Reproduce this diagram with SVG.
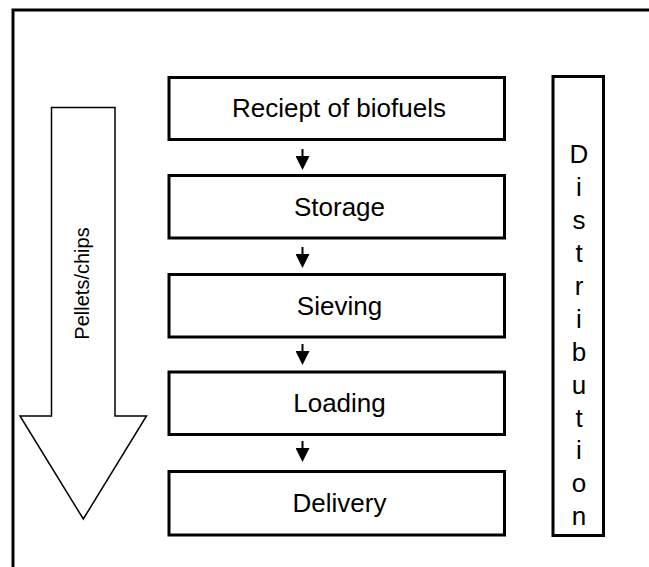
<svg xmlns="http://www.w3.org/2000/svg" width="649" height="567" viewBox="0 0 649 567">
<style>
.box{fill:#fff;stroke:#000;stroke-width:3}
.lbl{font-family:"Liberation Sans",Arial,sans-serif;font-size:26px;fill:#000;text-anchor:middle}
.con{stroke:#000;stroke-width:2;fill:none}
</style>
<defs>
<marker id="ah" markerWidth="14" markerHeight="14" refX="0" refY="7" orient="auto" markerUnits="userSpaceOnUse" viewBox="0 0 14 14">
<path d="M0,0 L14,7 L0,14 z" fill="#000"/>
</marker>
</defs>
<rect width="649" height="567" fill="#fff"/>
<rect id="frame" x="13" y="10" width="700" height="700" fill="none" stroke="#000" stroke-width="3"/>
<g id="pellets-arrow">
<polygon points="51.5,107.5 115,107.5 115,416 146.5,416 83.3,519 20,416 51.5,416" fill="#fff" stroke="#000" stroke-width="1.5"/>
<text transform="translate(89,283.5) rotate(-90)" font-family="Liberation Sans, Arial, sans-serif" font-size="20" text-anchor="middle" fill="#000">Pellets/chips</text>
</g>
<g id="receipt">
<rect class="box" x="169" y="77.5" width="335.5" height="62"/>
<text class="lbl" x="339" y="117">Reciept of biofuels</text>
</g>
<g id="storage">
<rect class="box" x="169" y="175.5" width="335.5" height="62.5"/>
<text class="lbl" x="339.5" y="215.5">Storage</text>
</g>
<g id="sieving">
<rect class="box" x="169" y="274.5" width="335.5" height="62.5"/>
<text class="lbl" x="339.5" y="314.5">Sieving</text>
</g>
<g id="loading">
<rect class="box" x="169" y="372" width="335.5" height="62.5"/>
<text class="lbl" x="339.5" y="412">Loading</text>
</g>
<g id="delivery">
<rect class="box" x="169" y="471.5" width="335.5" height="63.5"/>
<text class="lbl" x="339.5" y="512">Delivery</text>
</g>
<g id="distribution">
<rect class="box" x="553" y="76.5" width="50.5" height="459"/>
<text class="lbl" x="579" y="163.3"><tspan x="579">D</tspan><tspan x="579" dy="32.9">i</tspan><tspan x="579" dy="32.9">s</tspan><tspan x="579" dy="32.9">t</tspan><tspan x="579" dy="32.9">r</tspan><tspan x="579" dy="32.9">i</tspan><tspan x="579" dy="32.9">b</tspan><tspan x="579" dy="32.9">u</tspan><tspan x="579" dy="32.9">t</tspan><tspan x="579" dy="32.9">i</tspan><tspan x="579" dy="32.9">o</tspan><tspan x="579" dy="32.9">n</tspan></text>
</g>
<g id="connectors">
<line class="con" x1="302.5" y1="149" x2="302.5" y2="156" marker-end="url(#ah)"/>
<line class="con" x1="302.5" y1="247" x2="302.5" y2="254" marker-end="url(#ah)"/>
<line class="con" x1="302.5" y1="344" x2="302.5" y2="351" marker-end="url(#ah)"/>
<line class="con" x1="302.5" y1="441" x2="302.5" y2="448" marker-end="url(#ah)"/>
</g>
</svg>
